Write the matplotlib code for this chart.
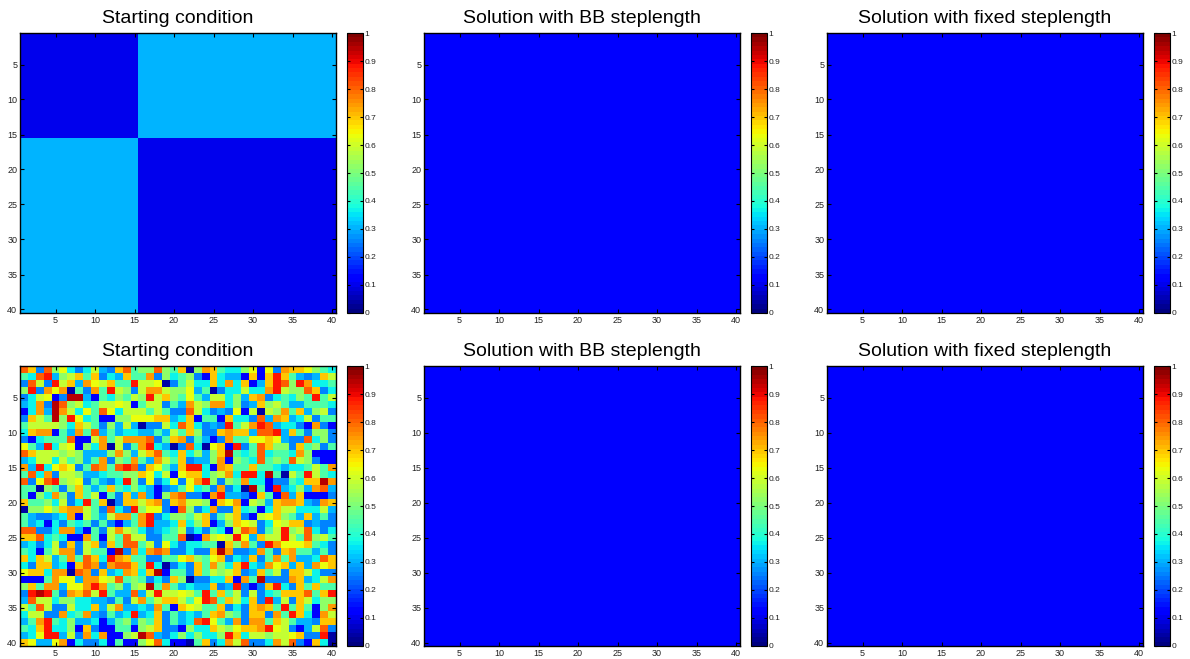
import numpy as np
import matplotlib
matplotlib.use("Agg")
import matplotlib.pyplot as plt

plt.rcParams['font.family'] = ['Liberation Sans', 'DejaVu Sans']

titles_top = ["Starting condition", "Solution with BB steplength", "Solution with fixed steplength"]
titles_bottom = ["Starting condition", "Solution with BB steplength", "Solution with fixed steplength"]

n = 40
block_size = 15
low_value = 0.095
high_value = 0.31
solution_value = 0.12
ticks = [5, 10, 15, 20, 25, 30, 35, 40]
cbar_ticks = [0, 0.1, 0.2, 0.3, 0.4, 0.5, 0.6, 0.7, 0.8, 0.9, 1]
cbar_labels = ["0", "0.1", "0.2", "0.3", "0.4", "0.5", "0.6", "0.7", "0.8", "0.9", "1"]

# colour codes read from the random starting condition (jet colormap)
code_values = {'D': 0.04, 'B': 0.12, 'b': 0.25, 'l': 0.31, 'C': 0.37, 'a': 0.45,
               'g': 0.53, 'y': 0.59, 'Y': 0.64, 'o': 0.69, 'O': 0.74, 'R': 0.81,
               'r': 0.88, 'M': 0.95}

random_left = [
    "RobRgYCbCylboRaggRga",
    "aCRrlgyoaobCloaaObgC",
    "bRybryolOYyoaaryyYDb",
    "grbOYODabOarygbyOOyg",
    "bCyYBbMMlBaCgaygryog",
    "lCObMRgyCayyYyBayyba",
    "BCOlMOyCYaRYCyyyayab",
    "boyaMgrYCaBBggYYYool",
    "ayyyygCoyabglylDbbyC",
    "CoOOBalOaRlalCCllaly",
    "bBCaaaRBByOayOOORbao",
    "YalrCyYBgCODybaOrClD",
    "RoyyygygllLgOglyoRaC".replace('L', 'l'),
    "lCyyCyaglaObgaOalOya",
    "OlrCYoYbaROaRrRboYal",
    "aRCObyygllCaaggoYCyB",
    "RbYRrgyYbalbCrgbYbCY",
    "aaDgabgoalaoaCgClBbl",
    "aBgCOgboayBabolOlBgO",
    "oaagCybCraoDbooyoObo",
    "DggYgoOOyabRCbrgYYbB",
    "albblCOByalyOOaOrbCg",
    "alCBCbaCababBlaOrllC",
    "RRbbCOOlBabyOygCblCa",
    "ooRCaCBBOaByaRyybbaa",
    "lCbCybobyoboaRRaybYC",
    "aCBayOObyaaBMbOCOROb",
    "oCoylaOaRoCrOoaabbaa",
    "CboolCBoRObORRoarCDb",
    "YooCOODRObolCOoCoMBa",
    "BBBaOYYlOOYyRagabCbo",
    "goaOOlYYOrOaglgyMaOa",
    "brMrabOoRyrallRlyryy",
    "lRyyCggCCllbabyOayoo",
    "yaRybbyCColyOllClOaB",
    "CyybbOCaOlbalCrlCoba",
    "laOraCgllCBlaglgaoba",
    "aCorCCgBobBBaaBgyobb",
    "lCYrrlybOCOBBgyMRlbC",
    "oYllYOBCbbCBaBBgYRCB",
]

random_right = [
    "oDgOoaCCgYBYbOooYgaC",
    "agbBoCllBoBoroalbloy",
    "ayCCoCOCoBlorRgrOCCa",
    "gYlaDbCCyCCOryggRobC",
    "aYalyyCgloObCaCgaray",
    "lOygOOCgblogyallaaaC",
    "bRyCblbYByDygOaolgyb",
    "CoBaaBoCCbRlOolCybaa",
    "RoCblbrayOrRlCCbBObB",
    "aogbboOoolRRrloabggb",
    "ObalBbOaaYYoYlbbRCgb",
    "bRCDYoBrbaRoggboagba",
    "oCglgoMaCaRCaaCOgBBB",
    "obllgOBgaCRagaRygbBB",
    "orrCBOoaaoaaClCCayaO",
    "YooCgyOCrrCMaDyaryaC",
    "bYOrgbgaOCCBbbaCooMO",
    "aYCabObCDMaBrlCglORl",
    "RbbBOrllbBoaBRloBBBb",
    "OyygBoYOBygloOOolbOo",
    "RgbCObboCaBCoyyCCCyl",
    "gayobayobByYogaloLab".replace('L', 'l'),
    "oCgoBlgoYybCYyooblbb",
    "ybCbaCByRObayrgyRCbC",
    "RDBOyYyrYloyyryaRgya",
    "bCCaaDogOabrOYYYoaCb",
    "bCbboMObblOaboOaalab",
    "YogaYobClobaOaOllCRo",
    "CboaOgCorClOYololOYo",
    "aboaygyobloaybooyCbb",
    "gDbbCCoBOaMbbbOolCyO",
    "lClloblrbBborCboaoaa",
    "YyaraoaybybCaoooRaor",
    "yaYrRaoyCobrlyboyCgg",
    "oYyaaobCboOoaraoaBgO",
    "lClaoOgaboobOaroCBOy",
    "lCRrYalObOOaoyallboo",
    "BgCCoygYooOrYybBlyRb",
    "gCgCCgroCyygyyYobbrD",
    "BDaobCOyRbbCOyRbBoCD",
]

random_grid = np.array([[code_values[c] for c in (random_left[i] + random_right[i])[:n]]
                        for i in range(n)])

block_grid = np.full((n, n), low_value)
block_grid[:block_size, block_size:] = high_value
block_grid[block_size:, :block_size] = high_value
solution_grid = np.full((n, n), solution_value)

grids = [[block_grid, solution_grid, solution_grid],
         [random_grid, solution_grid, solution_grid]]
titles = [titles_top, titles_bottom]

W, H = 1190, 659
fig = plt.figure(figsize=(W / 100, H / 100), dpi=100)
cmap = plt.get_cmap('jet', 64)

ax_lefts = [20, 424, 827]
ax_w = 316
cb_offset = 327
cb_w = 16
row_tops = [33, 366]
ax_h = 280

for r in range(2):
    for c in range(3):
        l = ax_lefts[c]
        t = row_tops[r]
        ax = fig.add_axes([l / W, 1 - (t + ax_h) / H, ax_w / W, ax_h / H])
        im = ax.imshow(grids[r][c], cmap=cmap, vmin=0, vmax=1, aspect='auto',
                       interpolation='nearest', extent=(0.5, n + 0.5, n + 0.5, 0.5))
        ax.set_xticks(ticks)
        ax.set_yticks(ticks)
        ax.tick_params(direction='in', length=3, width=0.8, labelsize=6.5,
                       top=True, right=True, pad=2, labelcolor='#222222')
        for s in ax.spines.values():
            s.set_linewidth(1.0)
        ax.set_title(titles[r][c], fontsize=14, pad=7)
        cax = fig.add_axes([(l + cb_offset) / W, 1 - (t + ax_h) / H, cb_w / W, ax_h / H])
        cb = fig.colorbar(im, cax=cax)
        cb.set_ticks(cbar_ticks)
        cb.set_ticklabels(cbar_labels)
        cax.tick_params(direction='in', length=2.5, width=0.8, labelsize=6,
                        left=True, right=True, pad=1, labelcolor='#222222')
        cb.outline.set_linewidth(0.8)

fig.savefig("out.png", dpi=100)
